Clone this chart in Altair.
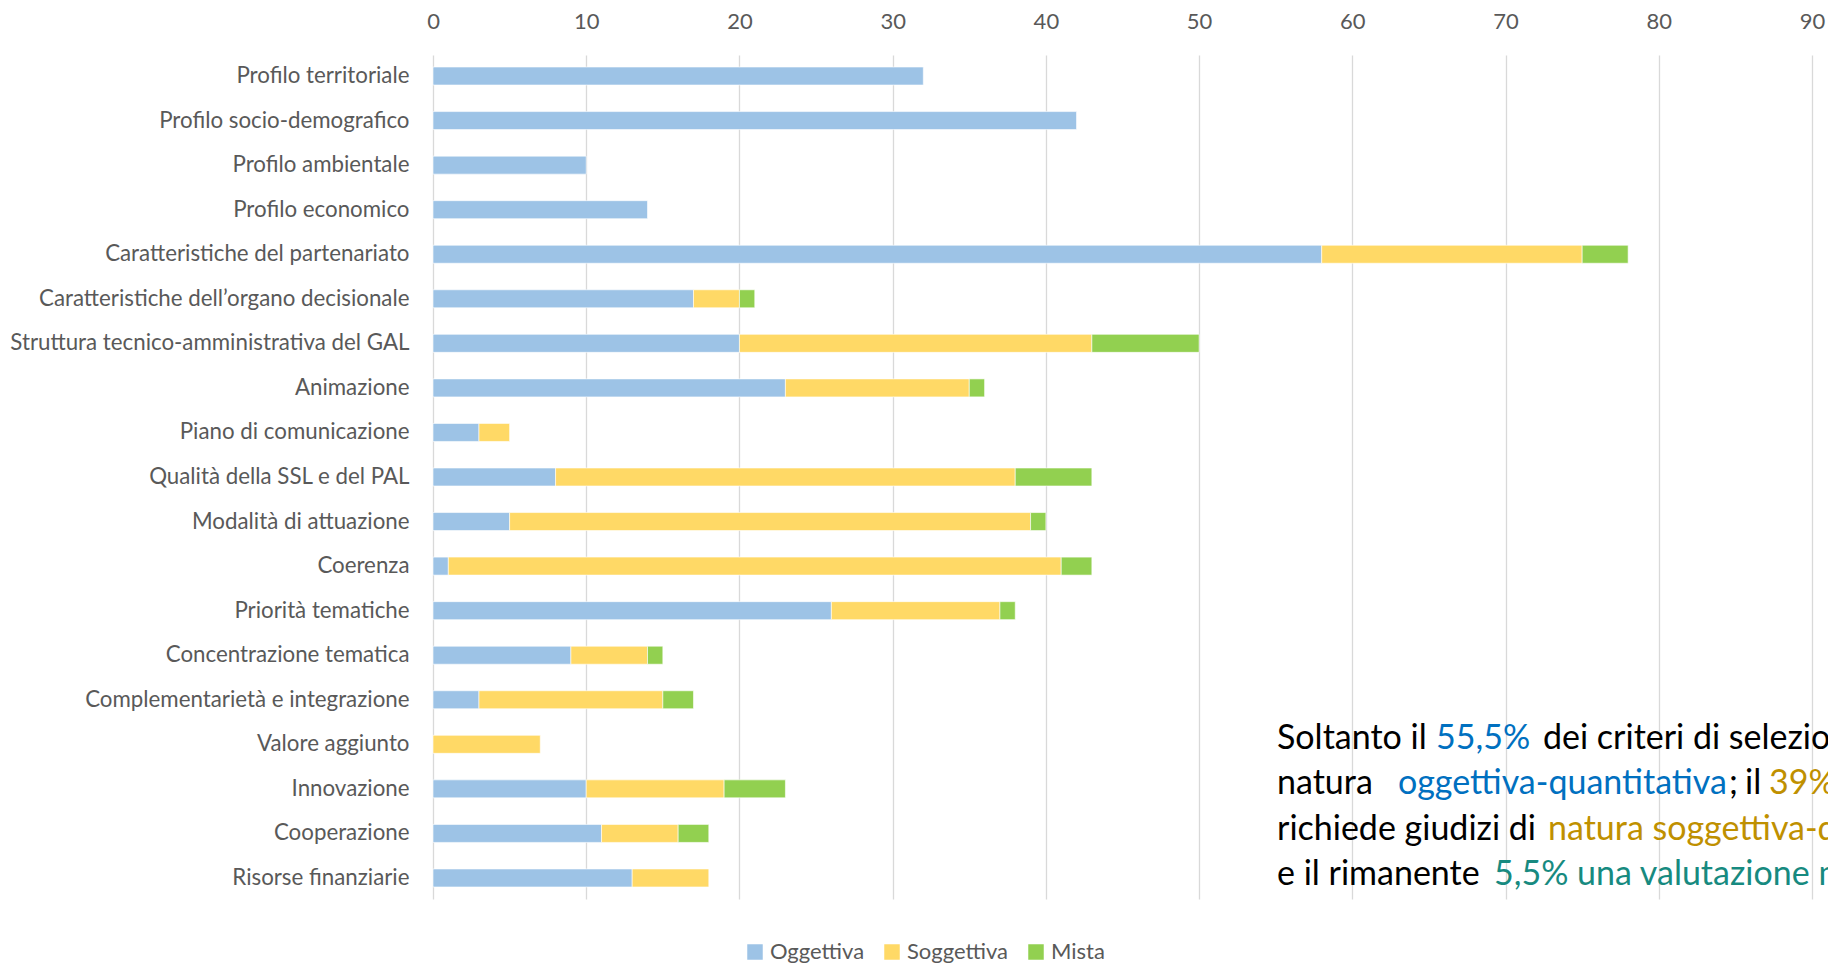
import altair as alt
import pandas as pd

# Criteri di selezione dei GAL, classificati per natura del giudizio richiesto
categories = [
    "Profilo territoriale",
    "Profilo socio-demografico",
    "Profilo ambientale",
    "Profilo economico",
    "Caratteristiche del partenariato",
    "Caratteristiche dell\u2019organo decisionale",
    "Struttura tecnico-amministrativa del GAL",
    "Animazione",
    "Piano di comunicazione",
    "Qualità della SSL e del PAL",
    "Modalità di attuazione",
    "Coerenza",
    "Priorità tematiche",
    "Concentrazione tematica",
    "Complementarietà e integrazione",
    "Valore aggiunto",
    "Innovazione",
    "Cooperazione",
    "Risorse finanziarie",
]
oggettiva = [32, 42, 10, 14, 58, 17, 20, 23, 3, 8, 5, 1, 26, 9, 3, 0, 10, 11, 13]
soggettiva = [0, 0, 0, 0, 17, 3, 23, 12, 2, 30, 34, 40, 11, 5, 12, 7, 9, 5, 5]
mista = [0, 0, 0, 0, 3, 1, 7, 1, 0, 5, 1, 2, 1, 1, 2, 0, 4, 2, 0]

series = ["Oggettiva", "Soggettiva", "Mista"]
series_colors = ["#9DC3E6", "#FFD966", "#92D050"]
x_ticks = [0, 10, 20, 30, 40, 50, 60, 70, 80, 90]

FONT = "Lato"
GREY = "#595959"

rows = []
for i, cat in enumerate(categories):
    for k, (name, vals) in enumerate(zip(series, [oggettiva, soggettiva, mista])):
        if vals[i] > 0:
            rows.append({"Criterio": cat, "Natura": name, "Valore": vals[i], "ordine": k})
df = pd.DataFrame(rows)

bars = alt.Chart(df).mark_bar(stroke="white", strokeWidth=0.6).encode(
    x=alt.X(
        "Valore:Q",
        stack="zero",
        scale=alt.Scale(domain=[0, 90], nice=False, zero=True),
        axis=alt.Axis(
            orient="top", values=x_ticks, ticks=False, domain=False, grid=True,
            gridColor="#D9D9D9", gridWidth=1.3, labelFont=FONT, labelFontSize=22,
            labelColor=GREY, labelPadding=22, labelFlush=False, title=None,
        ),
    ),
    y=alt.Y(
        "Criterio:N",
        sort=categories,
        scale=alt.Scale(paddingInner=0.596, paddingOuter=0.27),
        axis=alt.Axis(
            ticks=False, domain=False, grid=False, labelFont=FONT, labelFontSize=22.3,
            labelColor=GREY, labelPadding=24, labelLimit=0, title=None,
        ),
    ),
    color=alt.Color(
        "Natura:N",
        scale=alt.Scale(domain=series, range=series_colors),
        legend=alt.Legend(
            orient="none", legendX=311, legendY=886, direction="horizontal",
            title=None, symbolType="square", symbolSize=240, symbolStrokeWidth=0,
            labelFont=FONT, labelFontSize=22, labelColor=GREY, labelOffset=4,
            columnPadding=16,
        ),
    ),
    order=alt.Order("ordine:Q"),
)

# Nota di commento a destra, con le parole chiave colorate
ANN_SIZE = 34
BLACK = "#000000"
BLUE = "#0070C0"
GOLD = "#BF9000"
TEAL = "#178A80"
note_segments = [
    ("Soltanto il", 844, 694, BLACK),
    ("55,5%", 1003, 694, BLUE),
    ("dei criteri di selezione è di", 1110, 694, BLACK),
    ("natura", 844, 739, BLACK),
    ("oggettiva-quantitativa", 965, 739, BLUE),
    (";", 1296, 739, BLACK),
    ("il", 1312, 739, BLACK),
    ("39%", 1336, 739, GOLD),
    ("richiede giudizi di", 844, 785, BLACK),
    ("natura soggettiva-qualitativa", 1115, 785, GOLD),
    ("e il rimanente", 844, 830, BLACK),
    ("5,5% una valutazione mista", 1061, 830, TEAL),
]


def note(txt, x, y, color):
    return alt.Chart(alt.Data(values=[{}])).mark_text(
        align="left", baseline="alphabetic", font=FONT, fontSize=ANN_SIZE, color=color
    ).encode(x=alt.value(x), y=alt.value(y), text=alt.value(txt))


layers = [bars] + [note(*s) for s in note_segments]

chart = alt.layer(*layers).properties(
    width=1379,
    height=844,
    padding={"left": 433, "top": 55, "right": 16, "bottom": 64},
    autosize=alt.AutoSizeParams(type="none"),
    background="white",
).configure_view(stroke=None)

chart.save("out.html", embed_options={"renderer": "svg", "actions": False})
